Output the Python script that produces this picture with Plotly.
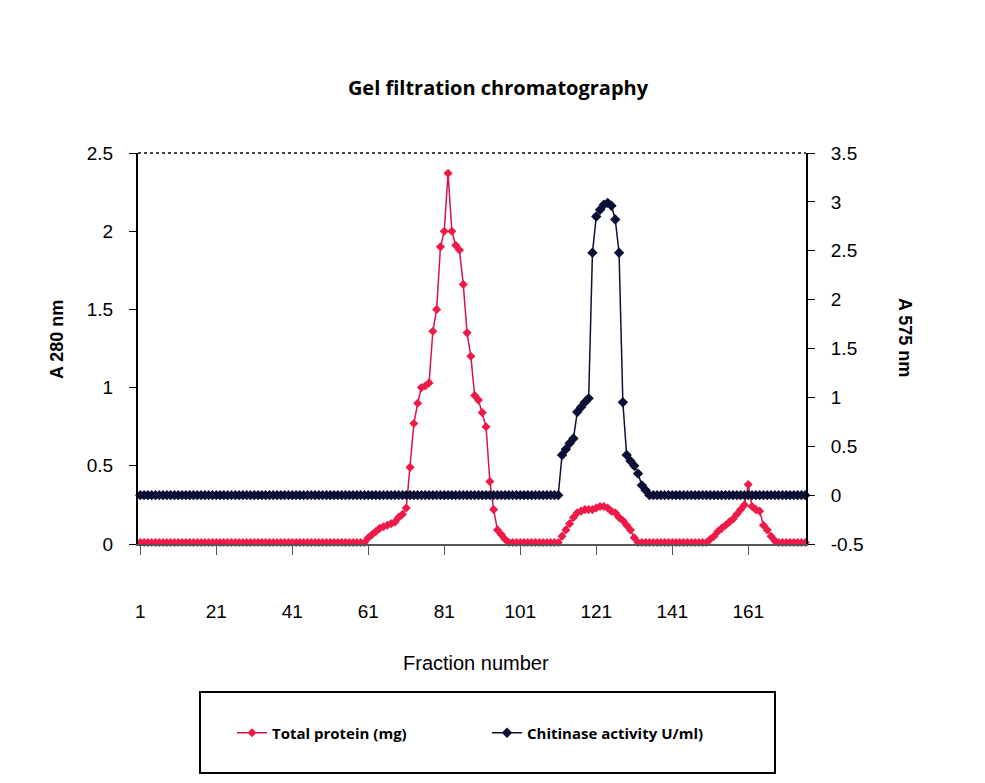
import plotly.graph_objects as go

# ---------------- data ----------------
fractions = list(range(1, 177))

total_protein = [
    0.01, 0.01, 0.01, 0.01, 0.01, 0.01, 0.01, 0.01, 0.01, 0.01,
    0.01, 0.01, 0.01, 0.01, 0.01, 0.01, 0.01, 0.01, 0.01, 0.01,
    0.01, 0.01, 0.01, 0.01, 0.01, 0.01, 0.01, 0.01, 0.01, 0.01,
    0.01, 0.01, 0.01, 0.01, 0.01, 0.01, 0.01, 0.01, 0.01, 0.01,
    0.01, 0.01, 0.01, 0.01, 0.01, 0.01, 0.01, 0.01, 0.01, 0.01,
    0.01, 0.01, 0.01, 0.01, 0.01, 0.01, 0.01, 0.01, 0.01, 0.01,
    0.04, 0.06, 0.08, 0.10, 0.11, 0.12, 0.13, 0.14, 0.17, 0.19,
    0.23, 0.49, 0.77, 0.90, 1.00, 1.01, 1.03, 1.36, 1.50, 1.90,
    2.00, 2.37, 2.00, 1.91, 1.88, 1.66, 1.35, 1.20, 0.95, 0.92,
    0.84, 0.75, 0.40, 0.22, 0.09, 0.06, 0.03, 0.01, 0.01, 0.01,
    0.01, 0.01, 0.01, 0.01, 0.01, 0.01, 0.01, 0.01, 0.01, 0.01,
    0.01, 0.05, 0.09, 0.13, 0.17, 0.20, 0.21, 0.22, 0.22, 0.22,
    0.23, 0.24, 0.24, 0.23, 0.21, 0.20, 0.17, 0.15, 0.12, 0.09,
    0.04, 0.01, 0.01, 0.01, 0.01, 0.01, 0.01, 0.01, 0.01, 0.01,
    0.01, 0.01, 0.01, 0.01, 0.01, 0.01, 0.01, 0.01, 0.01, 0.01,
    0.03, 0.05, 0.08, 0.10, 0.12, 0.14, 0.16, 0.19, 0.22, 0.25,
    0.38, 0.24, 0.22, 0.21, 0.12, 0.09, 0.05, 0.02, 0.01, 0.01,
    0.01, 0.01, 0.01, 0.01, 0.01, 0.01,
]

chitinase_activity = [
    0, 0, 0, 0, 0, 0, 0, 0, 0, 0,
    0, 0, 0, 0, 0, 0, 0, 0, 0, 0,
    0, 0, 0, 0, 0, 0, 0, 0, 0, 0,
    0, 0, 0, 0, 0, 0, 0, 0, 0, 0,
    0, 0, 0, 0, 0, 0, 0, 0, 0, 0,
    0, 0, 0, 0, 0, 0, 0, 0, 0, 0,
    0, 0, 0, 0, 0, 0, 0, 0, 0, 0,
    0, 0, 0, 0, 0, 0, 0, 0, 0, 0,
    0, 0, 0, 0, 0, 0, 0, 0, 0, 0,
    0, 0, 0, 0, 0, 0, 0, 0, 0, 0,
    0, 0, 0, 0, 0, 0, 0, 0, 0, 0,
    0, 0.41, 0.47, 0.53, 0.58, 0.85, 0.90, 0.95, 0.99, 2.48,
    2.85, 2.92, 2.97, 2.99, 2.96, 2.82, 2.48, 0.95, 0.41, 0.35,
    0.30, 0.22, 0.10, 0.05, 0, 0, 0, 0, 0, 0,
    0, 0, 0, 0, 0, 0, 0, 0, 0, 0,
    0, 0, 0, 0, 0, 0, 0, 0, 0, 0,
    0, 0, 0, 0, 0, 0, 0, 0, 0, 0,
    0, 0, 0, 0, 0, 0,
]

x_tick_values = [1, 21, 41, 61, 81, 101, 121, 141, 161]
x_tick_labels = ["1", "21", "41", "61", "81", "101", "121", "141", "161"]
left_tick_values = [0, 0.5, 1, 1.5, 2, 2.5]
left_tick_labels = ["0", "0.5", "1", "1.5", "2", "2.5"]
right_tick_values = [-0.5, 0, 0.5, 1, 1.5, 2, 2.5, 3, 3.5]
right_tick_labels = ["-0.5", "0", "0.5", "1", "1.5", "2", "2.5", "3", "3.5"]

assert len(total_protein) == len(fractions) == len(chitinase_activity)

# ---------------- layout geometry (screen pixels of the target) ----------------
W, H = 985, 783
OFF = 8  # page body margin
L, R, T, B = 138, 806, 153, 544
PW, PH = R - L, B - T


def px(x):
    return (x - L) / PW


def py(y):
    return (B - y) / PH


AX_FONT = dict(family="Liberation Sans, Arial, sans-serif", size=19, color="black")
BOLD_FONT = "Open Sans, Lato, sans-serif"

fig = go.Figure()
fig.add_trace(go.Scatter(
    x=fractions, y=total_protein, name="Total protein (mg)",
    mode="lines+markers", yaxis="y", xaxis="x",
    line=dict(color="#d3154e", width=1.5),
    marker=dict(symbol="diamond", size=7, color="#ee1a48"),
    cliponaxis=False,
))
fig.add_trace(go.Scatter(
    x=fractions, y=chitinase_activity, name="Chitinase activity U/ml)",
    mode="lines+markers", yaxis="y2", xaxis="x",
    line=dict(color="#0e1130", width=1.5),
    marker=dict(symbol="diamond", size=8, color="#0c1035"),
    cliponaxis=False,
))

xrange = [0.4, 176.2]
fig.update_layout(
    width=W, height=H,
    paper_bgcolor="white", plot_bgcolor="white",
    margin=dict(l=L - OFF, r=W - (R - OFF), t=T - OFF, b=H - (B - OFF), autoexpand=False),
    title=dict(text="<b>Gel filtration chromatography</b>",
               font=dict(family=BOLD_FONT, size=20, color="black"),
               x=(498 - OFF) / W, xref="container", xanchor="center",
               y=1 - (88 - OFF) / H, yref="container", yanchor="middle"),
    xaxis=dict(range=xrange, tickmode="array", tickvals=x_tick_values, ticktext=x_tick_labels,
               ticks="outside", ticklen=9, tickwidth=1, tickcolor="#555",
               showline=True, linecolor="#555", linewidth=1.5,
               showgrid=False, zeroline=False, tickfont=AX_FONT,
               ticklabelstandoff=40, anchor="y"),
    xaxis2=dict(range=xrange, overlaying="x", anchor="y", side="bottom",
                tickmode="array", tickvals=x_tick_values, ticks="inside", ticklen=8,
                tickcolor="#555", showticklabels=False, showline=False,
                showgrid=False, zeroline=False),
    yaxis=dict(range=[0, 2.5], tickmode="array", tickvals=left_tick_values, ticktext=left_tick_labels,
               ticks="outside", ticklen=7, tickcolor="black",
               showline=True, linecolor="black", linewidth=2,
               showgrid=False, zeroline=False, tickfont=AX_FONT,
               ticklabelstandoff=12, anchor="x"),
    yaxis2=dict(range=[-0.5, 3.5], overlaying="y", side="right", anchor="x",
                tickmode="array", tickvals=right_tick_values, ticktext=right_tick_labels,
                ticks="outside", ticklen=7, tickcolor="black",
                showline=True, linecolor="black", linewidth=2,
                showgrid=False, zeroline=False, tickfont=AX_FONT,
                ticklabelstandoff=12),
    yaxis3=dict(range=[0, 2.5], overlaying="y", side="left", anchor="x",
                tickmode="array", tickvals=left_tick_values, ticks="inside", ticklen=6,
                tickcolor="black", showticklabels=False, showline=False,
                showgrid=False, zeroline=False),
    yaxis4=dict(range=[-0.5, 3.5], overlaying="y", side="right", anchor="x",
                tickmode="array", tickvals=right_tick_values, ticks="inside", ticklen=6,
                tickcolor="black", showticklabels=False, showline=False,
                showgrid=False, zeroline=False),
    showlegend=True,
    legend=dict(orientation="h", x=px(232), xanchor="left", y=py(733), yanchor="middle",
                font=dict(family=BOLD_FONT, size=15, color="black", weight="bold"),
                entrywidth=210, entrywidthmode="pixels",
                bgcolor="rgba(0,0,0,0)", borderwidth=0),
    shapes=[
        dict(type="line", xref="paper", yref="paper", x0=0, x1=1, y0=1, y1=1,
             line=dict(color="#444", width=2, dash="dot")),
        dict(type="rect", xref="paper", yref="paper",
             x0=px(200), x1=px(775), y0=py(773), y1=py(692),
             line=dict(color="black", width=2)),
    ],
    annotations=[
        dict(text="Fraction number", xref="paper", yref="paper", x=px(476), y=py(663),
             showarrow=False, xanchor="center", yanchor="middle",
             font=dict(family="Liberation Sans, Arial, sans-serif", size=20, color="black")),
        dict(text="<b>A 280 nm</b>", xref="paper", yref="paper", x=px(57), y=py(340),
             showarrow=False, textangle=-90, xanchor="center", yanchor="middle",
             font=dict(family="Liberation Sans, Arial, sans-serif", size=18, color="black")),
        dict(text="<b>A 575 nm</b>", xref="paper", yref="paper", x=px(905), y=py(337),
             showarrow=False, textangle=90, xanchor="center", yanchor="middle",
             font=dict(family="Liberation Sans, Arial, sans-serif", size=18, color="black")),
    ],
)

fig.write_html("out.html")
